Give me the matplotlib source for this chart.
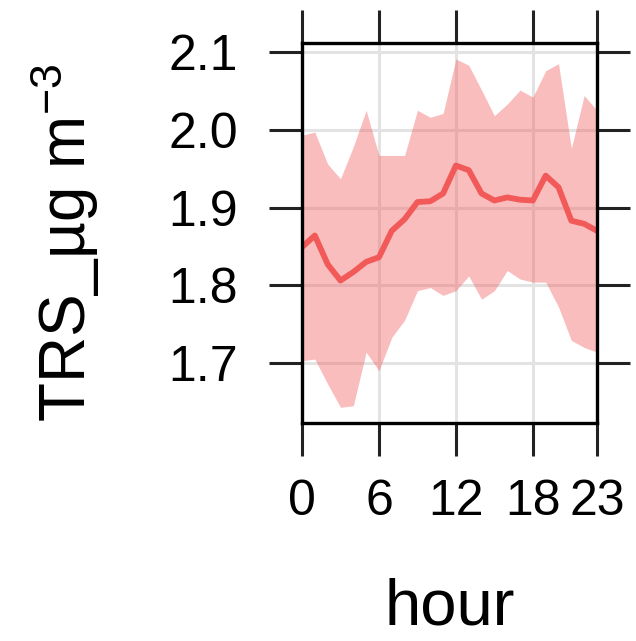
import numpy as np
import matplotlib.pyplot as plt

plt.rcParams['font.family'] = ['Liberation Sans', 'DejaVu Sans']
plt.rcParams['mathtext.default'] = 'regular'

# hourly mean and confidence band
hours = np.arange(24)
mean_trs = [1.849, 1.864, 1.827, 1.806, 1.817, 1.830, 1.836, 1.870,
            1.885, 1.907, 1.908, 1.918, 1.954, 1.948, 1.918, 1.909,
            1.913, 1.910, 1.909, 1.941, 1.926, 1.883, 1.879, 1.870]
upper_trs = [1.993, 1.997, 1.956, 1.937, 1.978, 2.025, 1.967, 1.967,
             1.967, 2.025, 2.016, 2.021, 2.091, 2.083, 2.051, 2.018,
             2.033, 2.051, 2.042, 2.076, 2.085, 1.976, 2.044, 2.025]
lower_trs = [1.703, 1.705, 1.673, 1.643, 1.645, 1.714, 1.690, 1.733,
             1.755, 1.793, 1.797, 1.787, 1.793, 1.812, 1.782, 1.793,
             1.819, 1.808, 1.804, 1.804, 1.772, 1.729, 1.720, 1.714]
x_ticks = [0, 6, 12, 18, 23]
y_ticks = [1.7, 1.8, 1.9, 2.0, 2.1]

col = '#F25A5A'

fig = plt.figure(figsize=(6.36, 6.41), dpi=100)
ax = fig.add_axes([302 / 636, 1 - 423 / 641, 295 / 636, 380 / 641])

ax.grid(True, color='#E3E3E3', linewidth=2.2, zorder=0)
ax.set_axisbelow(True)
ax.fill_between(hours, lower_trs, upper_trs, color=col, alpha=0.4,
                linewidth=0, zorder=1)
ax.plot(hours, mean_trs, color=col, linewidth=4.2, zorder=2)

ax.set_xlim(0, 23)
ax.set_ylim(1.6228, 2.1116)
ax.set_xticks(x_ticks)
ax.set_yticks(y_ticks)
ax.set_yticklabels(['1.7', '1.8', '1.9', '2.0', '2.1'])

for s in ax.spines.values():
    s.set_linewidth(2.4)
    s.set_color('black')

ax.tick_params(axis='both', which='major', direction='out', length=24,
               width=2.2, color='#222222', labelsize=36,
               top=True, right=True, labeltop=False, labelright=False)
ax.tick_params(axis='x', pad=16)
ax.tick_params(axis='y', pad=22)

ax.set_xlabel('hour', fontsize=47, labelpad=38)
ax.set_ylabel('TRS_µg m$^{-3}$', fontsize=46)
ax.yaxis.set_label_coords(-0.68, 0.475)

fig.savefig('out.png', dpi=100)
